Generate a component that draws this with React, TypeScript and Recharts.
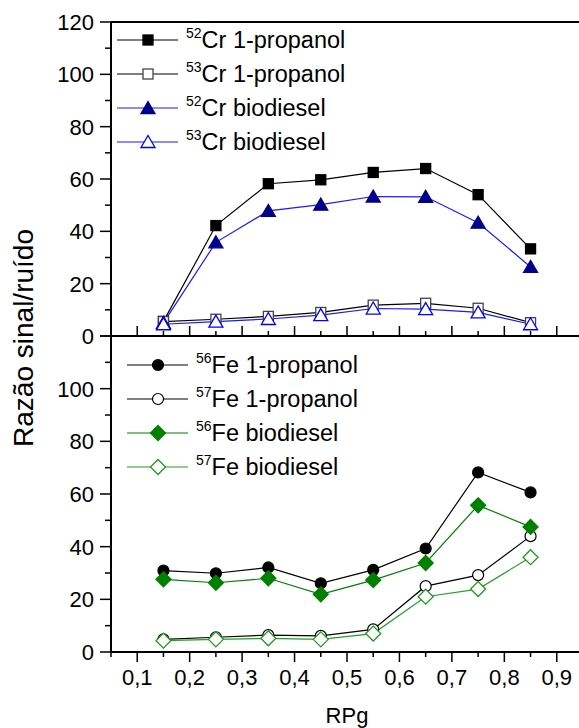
import React from 'react';
import { LineChart, Line, XAxis, YAxis, Legend } from 'recharts';

// RPg values (x) and signal/noise ratios
const rpg = [0.15, 0.25, 0.35, 0.45, 0.55, 0.65, 0.75, 0.85];

const cr52Propanol = [5.6, 42.2, 58.2, 59.7, 62.5, 64, 54, 33.3];
const cr53Propanol = [5.5, 6.4, 7.5, 9, 11.8, 12.5, 10.6, 5.1];
const cr52Biodiesel = [5, 35.8, 47.8, 50.2, 53.3, 53.2, 43.3, 26.4];
const cr53Biodiesel = [4.5, 5.5, 6.5, 8, 10.5, 10.3, 9, 4.5];

const fe56Propanol = [30.9, 29.9, 32.1, 26.1, 31.2, 39.3, 68.2, 60.6];
const fe57Propanol = [4.8, 5.6, 6.4, 6.1, 8.6, 25, 29.2, 44];
const fe56Biodiesel = [27.6, 26.3, 28, 21.9, 27.3, 33.8, 55.7, 47.5];
const fe57Biodiesel = [4.3, 4.8, 5.2, 4.8, 7, 21, 23.9, 36];

const xTicks = [0.05, 0.1, 0.15, 0.2, 0.25, 0.3, 0.35, 0.4, 0.45, 0.5, 0.55, 0.6, 0.65, 0.7, 0.75, 0.8, 0.85, 0.9, 0.95];
const yTicks = [0, 10, 20, 30, 40, 50, 60, 70, 80, 90, 100, 110, 120];
const topYLabels = [0, 20, 40, 60, 80, 100, 120];
const bottomYLabels = [0, 20, 40, 60, 80, 100];

const FONT = '"Liberation Sans", Arial, sans-serif';

const crData = rpg.map((x, i) => ({
  x,
  cr52p: cr52Propanol[i],
  cr53p: cr53Propanol[i],
  cr52b: cr52Biodiesel[i],
  cr53b: cr53Biodiesel[i],
}));

const feData = rpg.map((x, i) => ({
  x,
  fe56p: fe56Propanol[i],
  fe57p: fe57Propanol[i],
  fe56b: fe56Biodiesel[i],
  fe57b: fe57Biodiesel[i],
}));

type Shape = 'square' | 'triangle' | 'circle' | 'diamond';
interface Series {
  key: string;
  iso: string;
  label: string;
  line: string;
  shape: Shape;
  fill: string;
  stroke: string;
}

const crSeries: Series[] = [
  { key: 'cr52p', iso: '52', label: 'Cr 1-propanol', line: '#000', shape: 'square', fill: '#000', stroke: '#000' },
  { key: 'cr53p', iso: '53', label: 'Cr 1-propanol', line: '#000', shape: 'square', fill: '#fff', stroke: '#444' },
  { key: 'cr52b', iso: '52', label: 'Cr biodiesel', line: '#1a1aff', shape: 'triangle', fill: '#00008b', stroke: '#00008b' },
  { key: 'cr53b', iso: '53', label: 'Cr biodiesel', line: '#1a1aff', shape: 'triangle', fill: '#fff', stroke: '#0000ff' },
];

const feSeries: Series[] = [
  { key: 'fe56p', iso: '56', label: 'Fe 1-propanol', line: '#000', shape: 'circle', fill: '#000', stroke: '#000' },
  { key: 'fe57p', iso: '57', label: 'Fe 1-propanol', line: '#000', shape: 'circle', fill: '#fff', stroke: '#000' },
  { key: 'fe56b', iso: '56', label: 'Fe biodiesel', line: '#008000', shape: 'diamond', fill: '#008000', stroke: '#008000' },
  { key: 'fe57b', iso: '57', label: 'Fe biodiesel', line: '#22a022', shape: 'diamond', fill: '#fff', stroke: '#1f9a1f' },
];

const Marker = ({ shape, cx, cy, fill, stroke }: { shape: Shape; cx: number; cy: number; fill: string; stroke: string }) => {
  if (shape === 'square') {
    return <rect x={cx - 5} y={cy - 5} width={10} height={10} fill={fill} stroke={stroke} strokeWidth={1.3} />;
  }
  if (shape === 'triangle') {
    return (
      <polygon
        points={`${cx},${cy - 6.5} ${cx + 7},${cy + 5.5} ${cx - 7},${cy + 5.5}`}
        fill={fill}
        stroke={stroke}
        strokeWidth={1.3}
      />
    );
  }
  if (shape === 'circle') {
    return <circle cx={cx} cy={cy} r={5.5} fill={fill} stroke={stroke} strokeWidth={1.2} />;
  }
  return (
    <polygon
      points={`${cx},${cy - 7.5} ${cx + 7.5},${cy} ${cx},${cy + 7.5} ${cx - 7.5},${cy}`}
      fill={fill}
      stroke={stroke}
      strokeWidth={1.3}
    />
  );
};

const isMajorX = (v: number) => Math.round(v * 100) % 10 === 0;

// ticks pointing into the top panel, no labels
const TopXTick = (props: any) => {
  const { x, y, payload } = props;
  const len = isMajorX(payload.value) ? 10 : 5;
  return <line x1={x} x2={x} y1={y} y2={y - len} stroke="#000" strokeWidth={1.5} />;
};

const BottomXTick = (props: any) => {
  const { x, y, payload } = props;
  const major = isMajorX(payload.value);
  return (
    <g>
      <line x1={x} x2={x} y1={y} y2={y + (major ? 10 : 5)} stroke="#000" strokeWidth={1.5} />
      {major && (
        <text x={x} y={y + 33} textAnchor="middle" fontSize={22} fontFamily={FONT} fill="#000">
          {payload.value.toFixed(1).replace('.', ',')}
        </text>
      )}
    </g>
  );
};

const makeYTick = (labels: number[]) => (props: any) => {
  const { x, y, payload } = props;
  const v = payload.value;
  const major = v % 20 === 0;
  return (
    <g>
      <line x1={x - (major ? 11 : 6)} x2={x} y1={y} y2={y} stroke="#000" strokeWidth={1.5} />
      {labels.includes(v) && (
        <text x={x - 17} y={y + 8} textAnchor="end" fontSize={22} fontFamily={FONT} fill="#000">
          {v}
        </text>
      )}
    </g>
  );
};

const LegendBox = ({ series, payload }: { series: Series[]; payload?: any[] }) => {
  const keys = (payload || []).map((p: any) => p.dataKey);
  const rows = series.filter((s) => keys.length === 0 || keys.includes(s.key));
  return (
    <div style={{ fontFamily: FONT }}>
      {rows.map((s) => (
        <div key={s.key} style={{ display: 'flex', alignItems: 'center', height: 34 }}>
          <svg width={62} height={34} style={{ display: 'block' }}>
            <line x1={0} x2={61} y1={17} y2={17} stroke={s.line} strokeWidth={1.2} />
            <Marker shape={s.shape} cx={31} cy={17} fill={s.fill} stroke={s.stroke} />
          </svg>
          <span style={{ marginLeft: 7, fontSize: 23.5, color: '#000', whiteSpace: 'nowrap' }}>
            <span style={{ fontSize: 14, position: 'relative', top: -10 }}>{s.iso}</span>
            {s.label}
          </span>
        </div>
      ))}
    </div>
  );
};

const renderLines = (series: Series[]) =>
  series.map((s) => (
    <Line
      key={s.key}
      dataKey={s.key}
      type="linear"
      stroke={s.line}
      strokeWidth={1.2}
      isAnimationActive={false}
      activeDot={false}
      dot={(p: any) => (
        <Marker key={`${s.key}-${p.index}`} shape={s.shape} cx={p.cx} cy={p.cy} fill={s.fill} stroke={s.stroke} />
      )}
    />
  ));

export default function App() {
  return (
    <div
      style={{
        position: 'absolute',
        left: 0,
        top: 0,
        width: 579,
        height: 728,
        overflow: 'hidden',
        background: '#fff',
        fontFamily: FONT,
      }}
    >
      <div style={{ position: 'absolute', left: 0, top: 0 }}>
        <LineChart width={600} height={360} data={crData} margin={{ top: 21, right: 17, bottom: 23, left: 0 }}>
          <XAxis
            dataKey="x"
            type="number"
            domain={[0.05, 0.95]}
            ticks={xTicks}
            interval={0}
            tickSize={0}
            tickMargin={0}
            height={1}
            tick={<TopXTick />}
            axisLine={{ stroke: '#000', strokeWidth: 2 }}
          />
          <XAxis
            xAxisId="top"
            orientation="top"
            dataKey="x"
            type="number"
            domain={[0.05, 0.95]}
            height={1}
            tick={false}
            tickLine={false}
            axisLine={{ stroke: '#000', strokeWidth: 2 }}
          />
          <YAxis
            type="number"
            domain={[0, 120]}
            ticks={yTicks}
            interval={0}
            width={111}
            tickSize={0}
            tickMargin={0}
            tick={makeYTick(topYLabels)}
            axisLine={{ stroke: '#000', strokeWidth: 2 }}
          />
          <Legend
            layout="vertical"
            align="center"
            verticalAlign="middle"
            wrapperStyle={{ left: 117, top: 23, width: 260 }}
            content={(p: any) => <LegendBox series={crSeries} payload={p.payload} />}
          />
          {renderLines(crSeries)}
        </LineChart>
      </div>

      <div style={{ position: 'absolute', left: 0, top: 322 }}>
        <LineChart width={600} height={406} data={feData} margin={{ top: 14, right: 17, bottom: 0, left: 0 }}>
          <XAxis
            dataKey="x"
            type="number"
            domain={[0.05, 0.95]}
            ticks={xTicks}
            interval={0}
            tickSize={0}
            tickMargin={0}
            height={76}
            tick={<BottomXTick />}
            axisLine={{ stroke: '#000', strokeWidth: 2 }}
            label={{ value: 'RPg', position: 'insideBottom', offset: 5, fontSize: 22, fill: '#000', fontFamily: FONT }}
          />
          <YAxis
            type="number"
            domain={[0, 120]}
            ticks={yTicks}
            interval={0}
            width={111}
            tickSize={0}
            tickMargin={0}
            tick={makeYTick(bottomYLabels)}
            axisLine={{ stroke: '#000', strokeWidth: 2 }}
          />
          <Legend
            layout="vertical"
            align="center"
            verticalAlign="middle"
            wrapperStyle={{ left: 127, top: 26, width: 260 }}
            content={(p: any) => <LegendBox series={feSeries} payload={p.payload} />}
          />
          {renderLines(feSeries)}
        </LineChart>
      </div>

      <svg width={50} height={728} style={{ position: 'absolute', left: 0, top: 0 }}>
        <text
          transform="translate(33, 338) rotate(-90)"
          textAnchor="middle"
          fontSize={28}
          fontFamily={FONT}
          fill="#000"
        >
          Razão sinal/ruído
        </text>
      </svg>
    </div>
  );
}
